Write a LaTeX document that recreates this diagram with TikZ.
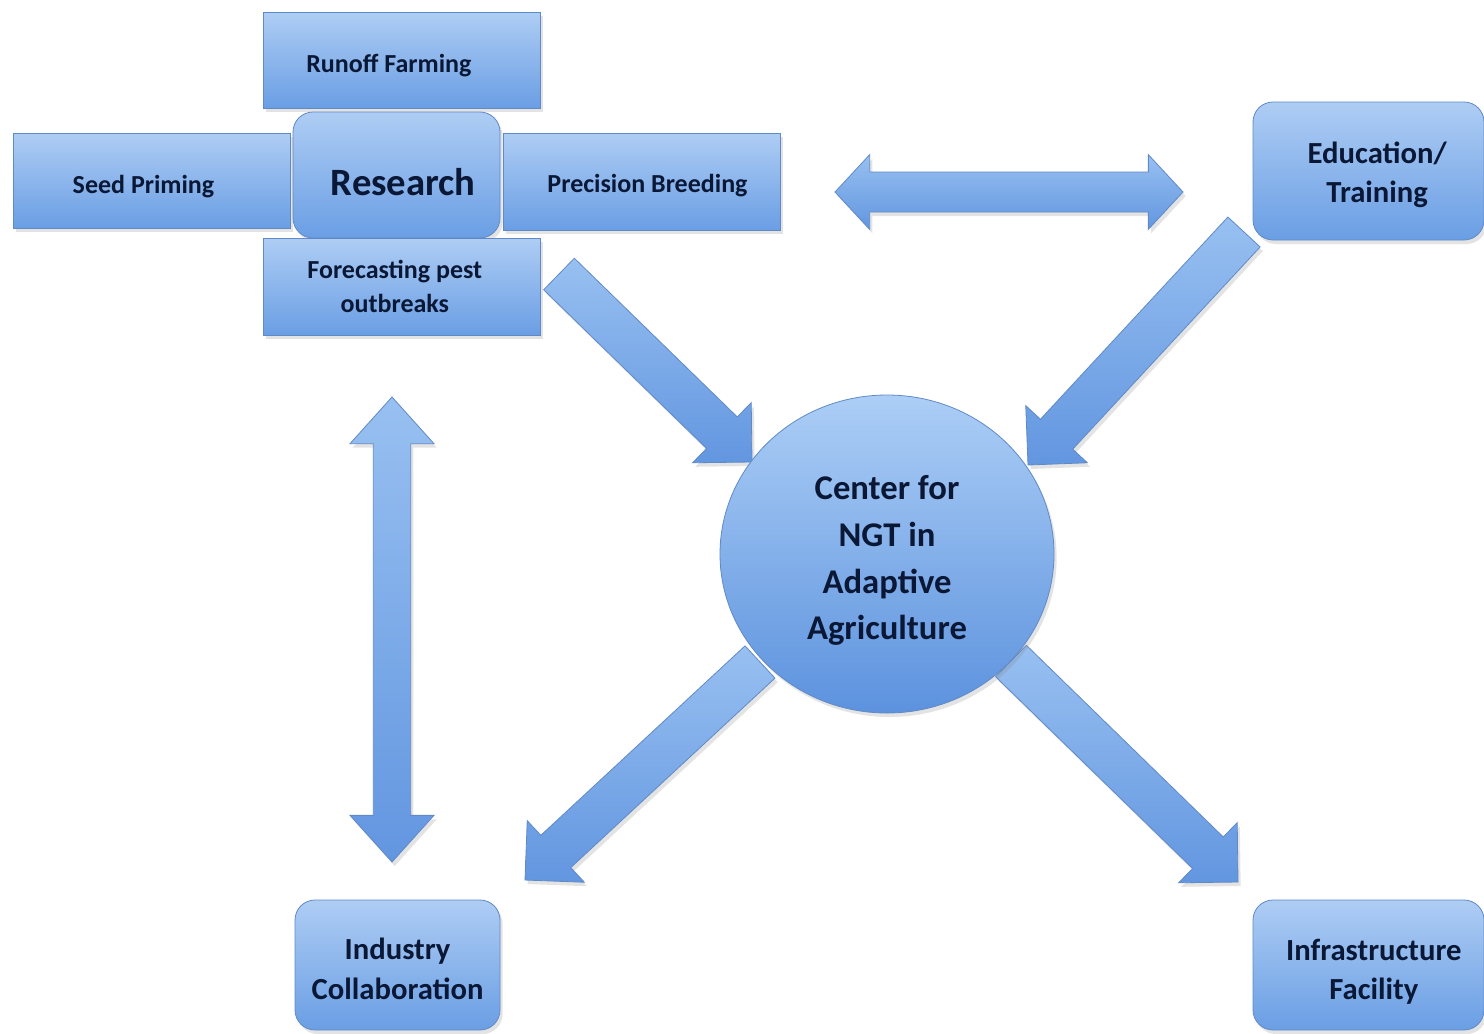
\documentclass[tikz,border=0pt]{standalone}
\usepackage{fontspec}
\setmainfont{Carlito}
\usetikzlibrary{calc,shapes.geometric,shadows,backgrounds}
\definecolor{boxtop}{RGB}{174,205,244}
\definecolor{boxbot}{RGB}{106,158,228}
\definecolor{boxline}{RGB}{96,138,198}
\definecolor{txt}{RGB}{10,24,54}
\definecolor{arrtop}{RGB}{152,192,241}
\definecolor{arrbot}{RGB}{98,150,224}
\tikzset{
  softshadow/.style={drop shadow={opacity=0.22, shadow xshift=2pt, shadow yshift=-3pt}},
  box/.style={rectangle, draw=boxline, line width=0.6pt, top color=boxtop, bottom color=boxbot,
    inner sep=2pt, softshadow},
  rbox/.style={box, rounded corners=15pt},
  tl/.style={text=txt, align=center, inner sep=0pt},
  smalltext/.style={tl, font=\bfseries\fontsize{19.5}{25}\selectfont},
  medtext/.style={tl, font=\bfseries\fontsize{23}{29.5}\selectfont},
  bigtext/.style={tl, font=\bfseries\fontsize{26}{35}\selectfont},
  hugetext/.style={tl, font=\bfseries\fontsize{29}{34}\selectfont},
  blockfill/.style={draw=boxline, line width=0.6pt, top color=arrtop, bottom color=arrbot, softshadow},
}
% single block arrow: #1 tail, #2 tip, #3 shaft half width, #4 head half width, #5 head length
\newcommand{\mysinglearrow}[5]{%
  \coordinate (tmpH) at ($(#2)!#5!(#1)$);
  \path[blockfill] ($(#1)!#3!90:(#2)$) -- ($(tmpH)!#3!90:(#2)$) -- ($(tmpH)!#4!90:(#2)$) -- (#2)
    -- ($(tmpH)!#4!-90:(#2)$) -- ($(tmpH)!#3!-90:(#2)$) -- ($(#1)!#3!-90:(#2)$) -- cycle;}
% double block arrow
\newcommand{\mydoublearrow}[5]{%
  \coordinate (tmpA) at ($(#1)!#5!(#2)$);
  \coordinate (tmpB) at ($(#2)!#5!(#1)$);
  \path[blockfill] (#1) -- ($(tmpA)!#4!90:(#2)$) -- ($(tmpA)!#3!90:(#2)$) -- ($(tmpB)!#3!90:(#2)$)
    -- ($(tmpB)!#4!90:(#2)$) -- (#2) -- ($(tmpB)!#4!-90:(#2)$) -- ($(tmpB)!#3!-90:(#2)$)
    -- ($(tmpA)!#3!-90:(#2)$) -- ($(tmpA)!#4!-90:(#2)$) -- cycle;}
\begin{document}
\begin{tikzpicture}[x=0.75pt, y=-0.75pt]
\useasboundingbox (0,0) rectangle (1484,1033);

% central cluster
\node[rbox, minimum width=155.25pt, minimum height=94.5pt,
  label={[hugetext, xshift=5pt, yshift=-5pt]center:Research}] (research) at (396.5,175) {};
\node[box, minimum width=207.75pt, minimum height=72pt,
  label={[smalltext, xshift=-9.5pt, yshift=-4.5pt]center:Runoff Farming}] (runoff) at (401.5,60) {};
\node[box, minimum width=207.75pt, minimum height=71.25pt,
  label={[smalltext, xshift=-6pt, yshift=-4.5pt]center:Seed Priming}] (seed) at (151.5,180.5) {};
\node[box, minimum width=207.75pt, minimum height=72.75pt,
  label={[smalltext, xshift=4.5pt, yshift=-3pt]center:Precision Breeding}] (precision) at (641.5,181.5) {};
\node[box, minimum width=207.75pt, minimum height=72.75pt,
  label={[smalltext, xshift=-5pt, yshift=0pt]center:Forecasting pest\\outbreaks}] (forecast) at (401.5,286.5) {};

\node[rbox, minimum width=173.25pt, minimum height=103.5pt,
  label={[medtext, xshift=6.5pt, yshift=-3pt]center:Education/\\Training}] (education) at (1368.5,171) {};
\node[rbox, minimum width=153.75pt, minimum height=97.5pt,
  label={[medtext, xshift=0pt, yshift=-3pt]center:Industry\\Collaboration}] (industry) at (397.5,965) {};
\node[rbox, minimum width=173.25pt, minimum height=97.5pt,
  label={[medtext, xshift=4pt, yshift=-5pt]center:Infrastructure\\Facility}] (infra) at (1368.5,965) {};

\node[ellipse, draw=boxline, line width=0.6pt, top color={rgb,255:red,172;green,206;blue,246}, bottom color={rgb,255:red,92;green,146;blue,222},
  minimum width=250.5pt, minimum height=238.5pt, inner sep=0pt, softshadow,
  label={[bigtext, yshift=-5pt]center:Center for\\NGT in\\Adaptive\\Agriculture}] (center) at (887,554) {};

% arrow end points
\coordinate (h1) at (835,192);
\coordinate (h2) at (1183,192);
\coordinate (v1) at (392,397);
\coordinate (v2) at (392,862);
\coordinate (rtail) at (559,274);
\coordinate (rtip) at (752,462);
\coordinate (etail) at (1244,232);
\coordinate (etip) at (1028,465);
\coordinate (itail) at (760,662);
\coordinate (itip) at (525,880);
\coordinate (ftail) at (1011,661);
\coordinate (ftip) at (1238,882);

\begin{pgfonlayer}{background}
\fill[white] (0,0) rectangle (1484,1033);
\mydoublearrow{h1}{h2}{15pt}{28pt}{26pt}
\mydoublearrow{v1}{v2}{14pt}{31.5pt}{35pt}
\mysinglearrow{rtail}{rtip}{16.5pt}{31.5pt}{31.5pt}
\mysinglearrow{etail}{etip}{16.5pt}{31.5pt}{31.5pt}
\mysinglearrow{itail}{itip}{16.5pt}{31.5pt}{31.5pt}
\mysinglearrow{ftail}{ftip}{16.5pt}{31.5pt}{31.5pt}
\end{pgfonlayer}
\end{tikzpicture}
\end{document}
